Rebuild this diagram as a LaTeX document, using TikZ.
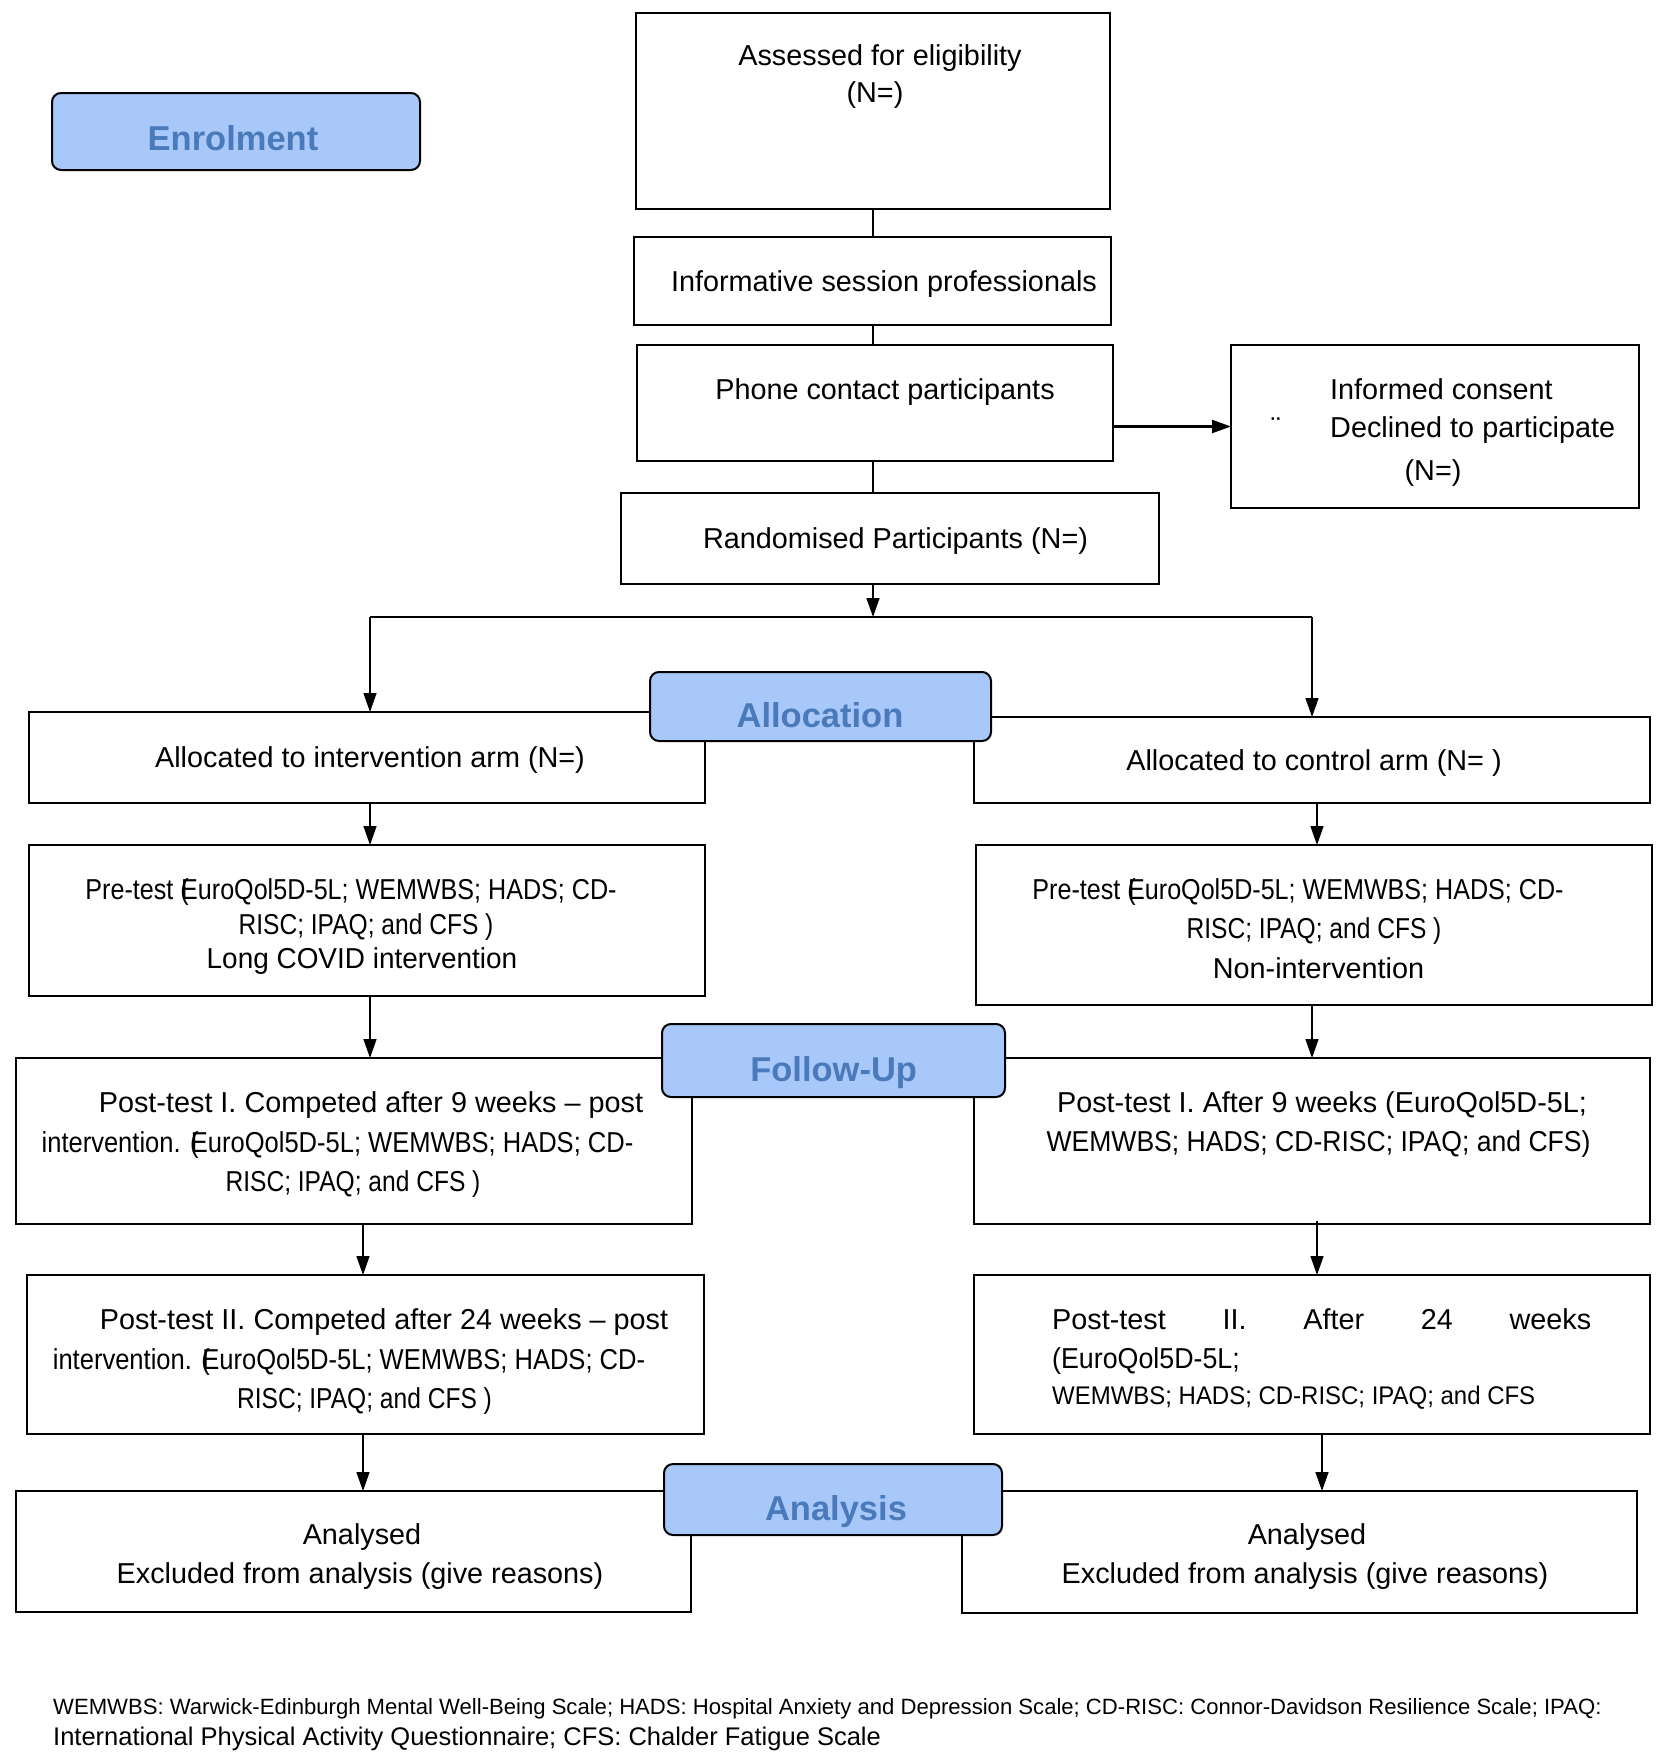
\documentclass[tikz,border=0pt]{standalone}
\usepackage{fontspec}
\usepackage{graphicx}
\setmainfont{Liberation Sans}
\usetikzlibrary{arrows.meta}
\definecolor{headfill}{RGB}{169,200,250}
\definecolor{headtext}{RGB}{74,122,185}
\newcommand\mybody{\fontsize{28.8}{38}\selectfont}
\newcommand\mysmall{\fontsize{25.5}{32}\selectfont}
\newcommand\myhead{\fontsize{34.5}{40}\selectfont\bfseries\color{headtext}}
\newcommand\mynoteA{\fontsize{22.1}{28}\selectfont}
\newcommand\mynoteB{\fontsize{25.5}{30}\selectfont}
\newcommand\cond[2]{\scalebox{#1}[1]{#2}}
\begin{document}
\begin{tikzpicture}[x=1pt,y=-1pt,
  box/.style={draw, line width=2pt, inner sep=0pt, outer sep=0pt},
  headbox/.style={draw, line width=2pt, rounded corners=9pt, fill=headfill, inner sep=0pt, outer sep=0pt},
  txt/.style={anchor=base, inner sep=0pt, font=\mybody},
  ltxt/.style={anchor=base west, inner sep=0pt, font=\mybody},
  htxt/.style={anchor=base, inner sep=0pt, font=\myhead},
  arr/.style={-{Triangle[length=19pt,width=13pt]}, line width=1.4pt},
  ln/.style={line width=1.4pt}]
\useasboundingbox (0,0) rectangle (1665,1764);
\fill[white] (0,0) rectangle (1665,1764);

% Enrolment column
\node[box, minimum width=474pt, minimum height=196pt] (assess) at (873,111) {};
\node[box, minimum width=477pt, minimum height=88pt] (inform) at (872.5,281) {};
\node[box, minimum width=476pt, minimum height=116pt] (phone) at (875,403) {};
\node[box, minimum width=408pt, minimum height=163pt] (consent) at (1435,426.5) {};
\node[box, minimum width=538pt, minimum height=91pt] (rand) at (890,538.5) {};

\node[txt] (tassess1) at (880,65) {Assessed for eligibility};
\node[txt] (tassess2) at (875,102) {(N=)};
\node[txt] (tinform) at (884,291) {Informative session professionals};
\node[txt] (tphone) at (885,399) {Phone contact participants};
\node[ltxt] (tcons1) at (1330,399) {Informed consent};
\node[ltxt] (tcons2) at (1330,437.5) {Declined to participate};
\node[txt] (tcons3) at (1433,480) {(N=)};
\node[txt] (tdots) at (1276,437.5) {¨};
\node[txt] (trand) at (895.5,548) {Randomised Participants (N=)};

% Allocation
\node[box, minimum width=676pt, minimum height=91pt] (ai) at (367,757.5) {};
\node[box, minimum width=676pt, minimum height=86pt] (ac) at (1312,760) {};
\node[txt] (tai) at (370,767) {Allocated to intervention arm (N=)};
\node[txt] (tac) at (1314,770.5) {Allocated to control arm (N= )};

\node[box, minimum width=676pt, minimum height=151pt] (prel) at (367,920.5) {};
\node[box, minimum width=676pt, minimum height=160pt] (prer) at (1314,925) {};
\node[txt] (tprel1) at (351,899) {\cond{0.872}{Pre-test (\kern-0.3em EuroQol5D-5L; WEMWBS; HADS; CD-}};
\node[txt] (tprel2) at (366,934) {\cond{0.853}{RISC; IPAQ; and CFS )}};
\node[txt] (tprel3) at (362,968.5) {\cond{0.97}{Long COVID intervention}};
\node[txt] (tprer1) at (1298,899) {\cond{0.872}{Pre-test (\kern-0.3em EuroQol5D-5L; WEMWBS; HADS; CD-}};
\node[txt] (tprer2) at (1314,938) {\cond{0.853}{RISC; IPAQ; and CFS )}};
\node[txt] (tprer3) at (1318.5,978.6) {Non-intervention};

% Follow-up
\node[box, minimum width=676pt, minimum height=166pt] (p1l) at (354,1141) {};
\node[box, minimum width=676pt, minimum height=166pt] (p1r) at (1312,1141) {};
\node[txt] (tp1l1) at (371,1112.5) {Post-test I. Competed after 9 weeks – post};
\node[txt] (tp1l2) at (337.5,1152) {\cond{0.886}{intervention. (\kern-0.3em EuroQol5D-5L; WEMWBS; HADS; CD-}};
\node[txt] (tp1l3) at (353,1191) {\cond{0.853}{RISC; IPAQ; and CFS )}};
\node[txt] (tp1r1) at (1322,1112.5) {Post-test I. After 9 weeks (EuroQol5D-5L;};
\node[txt] (tp1r2) at (1318.5,1151) {\cond{0.922}{WEMWBS; HADS; CD-RISC; IPAQ; and CFS)}};

\node[box, minimum width=677pt, minimum height=159pt] (p2l) at (365.5,1354.5) {};
\node[box, minimum width=676pt, minimum height=159pt] (p2r) at (1312,1354.5) {};
\node[txt] (tp2l1) at (384,1329.6) {Post-test II. Competed after 24 weeks – post};
\node[txt] (tp2l2) at (349,1369) {\cond{0.887}{intervention. (\kern-0.3em EuroQol5D-5L; WEMWBS; HADS; CD-}};
\node[txt] (tp2l3) at (364.5,1408.4) {\cond{0.853}{RISC; IPAQ; and CFS )}};
\node[ltxt] (tp2r1) at (1052,1329.6) {\hbox to 539pt{Post-test\hfill II.\hfill After\hfill 24\hfill weeks}};
\node[ltxt] (tp2r2) at (1052,1368) {\cond{0.93}{(EuroQol5D-5L;}};
\node[ltxt, font=\mysmall] (tp2r3) at (1052,1404) {\cond{0.94}{WEMWBS; HADS; CD-RISC; IPAQ; and CFS}};

% Analysis
\node[box, minimum width=675pt, minimum height=121pt] (al) at (353.5,1551.5) {};
\node[box, minimum width=675pt, minimum height=122pt] (ar) at (1299.5,1552) {};
\node[txt] (tal1) at (362,1544.5) {Analysed};
\node[txt] (tal2) at (360,1583) {Excluded from analysis (give reasons)};
\node[txt] (tar1) at (1307,1544.5) {Analysed};
\node[txt] (tar2) at (1305,1583) {Excluded from analysis (give reasons)};

% Heading boxes
\node[headbox, minimum width=368pt, minimum height=77pt] (enrol) at (236,131.5) {};
\node[htxt] (tenrol) at (233,150) {Enrolment};
\node[headbox, minimum width=341pt, minimum height=69pt] (alloc) at (820.5,706.5) {};
\node[htxt] (talloc) at (820,727.5) {Allocation};
\node[headbox, minimum width=343pt, minimum height=73pt] (fu) at (833.5,1060.5) {};
\node[htxt] (tfu) at (833.6,1081) {Follow-Up};
\node[headbox, minimum width=338pt, minimum height=71pt] (ana) at (833,1499.5) {};
\node[htxt] (tana) at (836,1520.6) {Analysis};

% Footnote
\node[anchor=base west, inner sep=0pt, font=\mynoteA] (note1) at (53,1714) {WEMWBS: Warwick-Edinburgh Mental Well-Being Scale; HADS: Hospital Anxiety and Depression Scale; CD-RISC: Connor-Davidson Resilience Scale; IPAQ:};
\node[anchor=base west, inner sep=0pt, font=\mynoteB] (note2) at (53,1745) {International Physical Activity Questionnaire; CFS: Chalder Fatigue Scale};

% Connectors
\coordinate (split) at (873,617);
\coordinate (splitL) at (370,617);
\coordinate (splitR) at (1312,617);
\draw[ln] (assess.south -| 873,0) -- (inform.north -| 873,0);
\draw[ln] (inform.south -| 873,0) -- (phone.north -| 873,0);
\draw[ln] (phone.south -| 873,0) -- (rand.north -| 873,0);
\draw[arr, line width=2.2pt] (phone.east |- consent.west) -- (consent.west);
\draw[arr] (rand.south -| split) -- (split);
\draw[ln] (splitL) -- (splitR);
\draw[arr] (splitL) -- (splitL |- ai.north);
\draw[arr] (splitR) -- (splitR |- ac.north);
\draw[arr] (ai.south -| 370,0) -- (prel.north -| 370,0);
\draw[arr] (ac.south -| 1317,0) -- (prer.north -| 1317,0);
\draw[arr] (prel.south -| 370,0) -- (p1l.north -| 370,0);
\draw[arr] (prer.south -| 1312,0) -- (p1r.north -| 1312,0);
\draw[arr] (p1l.south -| 363,0) -- (p2l.north -| 363,0);
\draw[arr] ([yshift=3pt]p1r.south -| 1317,0) -- (p2r.north -| 1317,0);
\draw[arr] (p2l.south -| 363,0) -- (al.north -| 363,0);
\draw[arr] (p2r.south -| 1322,0) -- (ar.north -| 1322,0);
\end{tikzpicture}
\end{document}
